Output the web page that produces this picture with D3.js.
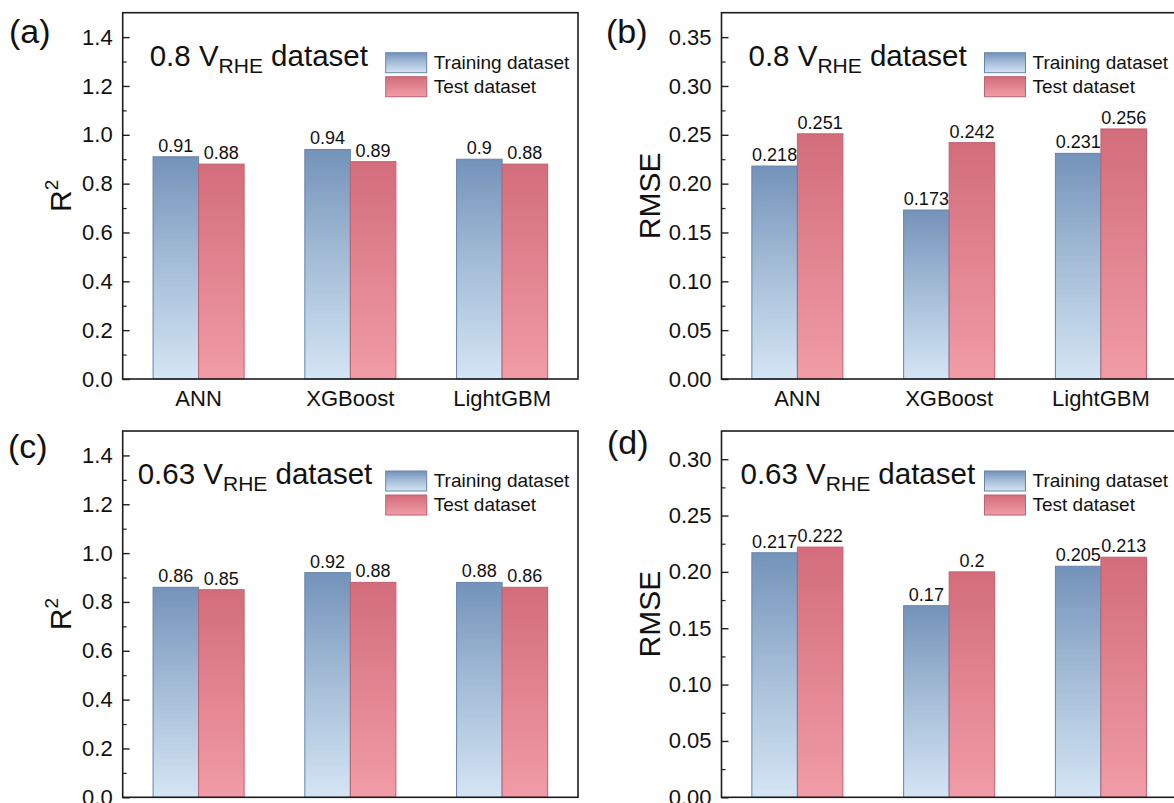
<!DOCTYPE html>
<html><head><meta charset="utf-8">
<script src="https://cdn.jsdelivr.net/npm/d3@7"></script>
<style>
body{margin:0;background:#fff;overflow:hidden}
svg{display:block;font-family:Arial,"Liberation Sans",Helvetica,sans-serif}
</style>
</head><body><svg id="chart" width="1174" height="803"></svg>
<script>
// ---------- data ----------
const categories = ["ANN", "XGBoost", "LightGBM"];
const seriesNames = ["Training dataset", "Test dataset"];

const r2_08_train   = [0.91, 0.94, 0.9];
const r2_08_test    = [0.88, 0.89, 0.88];
const rmse_08_train = [0.218, 0.173, 0.231];
const rmse_08_test  = [0.251, 0.242, 0.256];
const r2_063_train   = [0.86, 0.92, 0.88];
const r2_063_test    = [0.85, 0.88, 0.86];
const rmse_063_train = [0.217, 0.17, 0.205];
const rmse_063_test  = [0.222, 0.2, 0.213];

const r2Ticks      = [0, 0.2, 0.4, 0.6, 0.8, 1.0, 1.2, 1.4];
const r2Minor      = [0.1, 0.3, 0.5, 0.7, 0.9, 1.1, 1.3];
const rmse08Ticks  = [0, 0.05, 0.10, 0.15, 0.20, 0.25, 0.30, 0.35];
const rmse08Minor  = [0.025, 0.075, 0.125, 0.175, 0.225, 0.275, 0.325];
const rmse063Ticks = [0, 0.05, 0.10, 0.15, 0.20, 0.25, 0.30];
const rmse063Minor = [0.025, 0.075, 0.125, 0.175, 0.225, 0.275];

const panelTags = ["(a)", "(b)", "(c)", "(d)"];
const datasetVolts = ["0.8", "0.8", "0.63", "0.63"];

// ---------- layout ----------
const svg = d3.select("#chart");
const defs = svg.append("defs");
function grad(id, stops) {
  const g = defs.append("linearGradient").attr("id", id)
    .attr("x1", 0).attr("y1", 0).attr("x2", 0).attr("y2", 1);
  stops.forEach(s => g.append("stop").attr("offset", s[0]).attr("stop-color", s[1]));
}
grad("gTrain", [["0%", "#7493ba"], ["50%", "#a6bed8"], ["100%", "#d4e5f4"]]);
grad("gTest",  [["0%", "#d36d7b"], ["100%", "#f09ca7"]]);
const fills = ["url(#gTrain)", "url(#gTest)"];
const strokes = ["#6685ab", "#c06170"];

const panels = [
  {left: 122.7, top: 12.7, ymax: 1.5,   ticks: r2Ticks, minor: r2Minor, fmt: ".1f", ytitle: "R", sup: "2",
   train: r2_08_train, test: r2_08_test, tagX: 9, tagY: 43, titleDx: 27, ytX: 51.5, showX: true},
  {left: 721.5, top: 12.7, ymax: 0.375, ticks: rmse08Ticks, minor: rmse08Minor, fmt: ".2f", ytitle: "RMSE", sup: "",
   train: rmse_08_train, test: rmse_08_test, tagX: 606, tagY: 43, titleDx: 27, ytX: 62, showX: true},
  {left: 122.7, top: 431,  ymax: 1.5,   ticks: r2Ticks, minor: r2Minor, fmt: ".1f", ytitle: "R", sup: "2",
   train: r2_063_train, test: r2_063_test, tagX: 8, tagY: 458, titleDx: 15, ytX: 51.5, showX: false},
  {left: 721.5, top: 431,  ymax: 0.325, ticks: rmse063Ticks, minor: rmse063Minor, fmt: ".2f", ytitle: "RMSE", sup: "",
   train: rmse_063_train, test: rmse_063_test, tagX: 607, tagY: 454, titleDx: 19, ytX: 62, showX: false}
];
const W = 455.3, H = 366.3;

panels.forEach((p, pi) => {
  const g = svg.append("g");
  const x0 = d3.scaleBand().domain(categories).range([p.left, p.left + W])
    .paddingInner(0.4).paddingOuter(0.2);
  const x1 = d3.scaleBand().domain(seriesNames).range([0, x0.bandwidth()]);
  const y = d3.scaleLinear().domain([0, p.ymax]).range([p.top + H, p.top]);

  // bars
  const series = [p.train, p.test];
  series.forEach((vals, si) => {
    g.selectAll(null).data(vals).enter().append("rect")
      .attr("x", (d, i) => x0(categories[i]) + x1(seriesNames[si]))
      .attr("y", d => y(d))
      .attr("width", x1.bandwidth())
      .attr("height", d => y(0) - y(d))
      .attr("fill", fills[si])
      .attr("stroke", strokes[si]).attr("stroke-width", 1);
    g.selectAll(null).data(vals).enter().append("text")
      .attr("x", (d, i) => x0(categories[i]) + x1(seriesNames[si]) + x1.bandwidth() / 2)
      .attr("y", d => y(d) - 5)
      .attr("text-anchor", "middle")
      .attr("font-size", 18).attr("fill", "#111")
      .text(d => String(d));
  });

  // y axis major
  const ya = g.append("g").attr("transform", `translate(${p.left},0)`)
    .call(d3.axisLeft(y).tickValues(p.ticks).tickFormat(d3.format(p.fmt)).tickSize(-7).tickPadding(10));
  ya.select(".domain").remove();
  ya.selectAll("line").attr("stroke", "#222").attr("stroke-width", 1.4);
  ya.selectAll("text").attr("font-size", 22).attr("fill", "#111")
    .attr("font-family", "Arial, 'Liberation Sans', sans-serif");
  // y axis minor
  const ym = g.append("g").attr("transform", `translate(${p.left},0)`)
    .call(d3.axisLeft(y).tickValues(p.minor).tickFormat("").tickSize(-4));
  ym.select(".domain").remove();
  ym.selectAll("line").attr("stroke", "#222").attr("stroke-width", 1.2);

  // x axis labels (bottom row's labels fall outside the picture, as in the reference)
  if (p.showX) {
    const xa = g.append("g").attr("transform", `translate(0,${p.top + H})`)
      .call(d3.axisBottom(x0).tickSize(0).tickPadding(11));
    xa.select(".domain").remove();
    xa.selectAll("text").attr("font-size", 22).attr("fill", "#111")
      .attr("font-family", "Arial, 'Liberation Sans', sans-serif");
  }

  // frame
  g.append("rect").attr("x", p.left).attr("y", p.top).attr("width", W).attr("height", H)
    .attr("fill", "none").attr("stroke", "#1c1c1c").attr("stroke-width", 1.6);

  // y title
  const yt = g.append("text")
    .attr("transform", `translate(${p.left - p.ytX},${p.top + H / 2}) rotate(-90)`)
    .attr("text-anchor", "middle").attr("font-size", 30).attr("fill", "#111");
  yt.append("tspan").text(p.ytitle);
  if (p.sup) yt.append("tspan").attr("font-size", 19).attr("dy", -13).text(p.sup);

  // panel tag
  g.append("text").attr("x", p.tagX).attr("y", p.tagY)
    .attr("font-size", 34).attr("fill", "#111").text(panelTags[pi]);

  // dataset title
  const tt = g.append("text").attr("x", p.left + p.titleDx).attr("y", p.top + 53)
    .attr("font-size", 29.5).attr("fill", "#111");
  tt.append("tspan").text(datasetVolts[pi] + " V");
  tt.append("tspan").attr("font-size", 21).attr("dy", 7).text("RHE");
  tt.append("tspan").attr("dy", -7).text(" dataset");

  // legend
  const lx = p.left + 263;
  seriesNames.forEach((s, si) => {
    const sy = p.top + 40 + si * 24;
    g.append("rect").attr("x", lx).attr("y", sy).attr("width", 41).attr("height", 20)
      .attr("fill", fills[si]).attr("stroke", strokes[si]).attr("stroke-width", 1);
    g.append("text").attr("x", lx + 48).attr("y", sy + 16)
      .attr("font-size", 19).attr("fill", "#111").text(s);
  });
});
</script>
</body></html>
